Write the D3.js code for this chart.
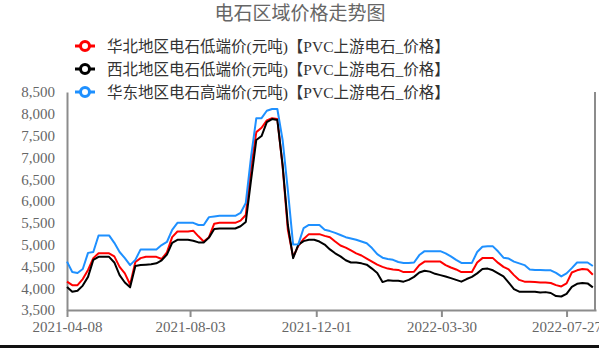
<!DOCTYPE html>
<html>
<head>
<meta charset="utf-8">
<script src="https://cdn.jsdelivr.net/npm/d3@7/dist/d3.min.js"></script>
<style>
  html, body { margin: 0; padding: 0; background: #fff; }
  svg { display: block; }
</style>
</head>
<body>
<svg id="chart" width="599" height="348"></svg>
<script>
// ---------------- data ----------------
const title = "电石区域价格走势图";
const seriesNames = [
  "华北地区电石低端价(元吨)【PVC上游电石_价格】",
  "西北地区电石低端价(元吨)【PVC上游电石_价格】",
  "华东地区电石高端价(元吨)【PVC上游电石_价格】"
];
const seriesColors = ["#ff0000", "#000000", "#1e90ff"];
const startDate = "2021-04-08";
const endDate = "2022-08-24";
const stepDays = 5; // one sample every 5 days
const xTickLabels = ["2021-04-08", "2021-08-03", "2021-12-01", "2022-03-30", "2022-07-27"];
const yTicks = [3500, 4000, 4500, 5000, 5500, 6000, 6500, 7000, 7500, 8000, 8500];

const redValues = [
  4150,4070,4070,4210,4420,4690,4800,4800,4800,4730,
  4490,4340,4085,4600,4690,4720,4720,4720,4670,4820,
  5170,5300,5300,5300,5320,5190,5070,5170,5480,5500,
  5500,5500,5500,5550,5680,6760,7580,7680,7850,7900,
  7880,6800,5340,4720,4970,5130,5240,5240,5240,5200,
  5170,5070,4980,4930,4865,4800,4750,4680,4610,4540,
  4490,4450,4430,4420,4370,4370,4380,4530,4610,4610,
  4610,4610,4530,4475,4430,4370,4370,4370,4590,4690,
  4690,4690,4580,4490,4430,4300,4190,4150,4150,4140,
  4130,4130,4120,4070,4040,4110,4360,4410,4440,4430,
  4310
];
const blackValues = [
  4030,3920,3940,4060,4260,4650,4720,4720,4720,4590,
  4300,4130,4020,4510,4530,4540,4550,4570,4640,4770,
  5040,5110,5110,5110,5090,5050,5050,5160,5360,5370,
  5370,5370,5370,5420,5520,6480,7400,7490,7810,7880,
  7860,6830,5450,4690,5000,5080,5110,5110,5070,5000,
  4890,4800,4730,4640,4590,4590,4570,4540,4450,4350,
  4140,4180,4170,4170,4150,4190,4260,4360,4400,4380,
  4330,4300,4270,4230,4190,4150,4210,4260,4340,4440,
  4450,4410,4340,4270,4130,3980,3920,3920,3920,3920,
  3900,3910,3890,3820,3810,3870,4030,4100,4120,4110,
  4020
];
const blueValues = [
  4610,4370,4350,4440,4810,4830,5210,5210,5210,5040,
  4830,4690,4530,4650,4890,4890,4890,4890,4990,5060,
  5340,5500,5500,5500,5500,5450,5450,5630,5645,5660,
  5660,5660,5660,5725,5955,7010,7900,7900,8070,8110,
  8110,7400,6250,5000,5010,5380,5450,5450,5450,5340,
  5310,5270,5220,5170,5140,5110,5070,5030,4920,4780,
  4700,4670,4650,4600,4580,4580,4590,4760,4850,4850,
  4850,4850,4800,4730,4650,4580,4580,4580,4830,4950,
  4960,4960,4840,4700,4680,4610,4570,4530,4430,4420,
  4420,4410,4410,4350,4270,4340,4460,4590,4590,4590,
  4510
];

// ---------------- chart ----------------
const parse = d3.timeParse("%Y-%m-%d");
const t0 = parse(startDate);
const dates = redValues.map((_, i) => d3.timeDay.offset(t0, i * stepDays));
const allSeries = [redValues, blackValues, blueValues];

const svg = d3.select("#chart");
const W = 599, H = 348;
const plot = { left: 67, right: 596, top: 92, bottom: 310 };

const x = d3.scaleTime()
  .domain([t0, parse(endDate)])
  .range([plot.left, plot.right]);
const y = d3.scaleLinear()
  .domain([3500, 8500])
  .range([plot.bottom, plot.top]);

const labelFont = "'Liberation Serif', 'Noto Sans CJK SC', serif";
const cjkFont = "'Liberation Serif', 'Noto Sans CJK SC', sans-serif";

// title
svg.append("text")
  .attr("x", 300).attr("y", 20)
  .attr("text-anchor", "middle")
  .attr("font-family", cjkFont)
  .attr("font-size", 19)
  .attr("fill", "#666")
  .text(title);

// legend
const legendRows = [46, 69, 92];
seriesNames.forEach((name, i) => {
  const g = svg.append("g").attr("transform", `translate(0,${legendRows[i]})`);
  g.append("line").attr("x1", 75).attr("x2", 95).attr("y1", 0).attr("y2", 0)
    .attr("stroke", seriesColors[i]).attr("stroke-width", 3);
  g.append("circle").attr("cx", 85).attr("cy", 0).attr("r", 4.5)
    .attr("fill", "#fff").attr("stroke", seriesColors[i]).attr("stroke-width", 3);
  g.append("text").attr("x", 107).attr("y", 0).attr("dy", "0.36em")
    .attr("font-family", cjkFont).attr("font-size", 15.5)
    .attr("fill", "#333").text(name);
});

// y axis
const yAxis = d3.axisLeft(y)
  .tickValues(yTicks)
  .tickSize(0)
  .tickSizeOuter(0)
  .tickPadding(12)
  .tickFormat(d3.format(","));
const gy = svg.append("g").attr("transform", `translate(${plot.left},0)`).call(yAxis);
gy.select(".domain").attr("stroke", "#8c8c8c").attr("stroke-width", 2);
gy.selectAll("text").attr("font-family", labelFont).attr("font-size", 15).attr("fill", "#666");

// x axis
const xAxis = d3.axisBottom(x)
  .tickValues(xTickLabels.map(parse))
  .tickSize(7)
  .tickSizeOuter(0)
  .tickPadding(4)
  .tickFormat(d3.timeFormat("%Y-%m-%d"));
const gx = svg.append("g").attr("transform", `translate(0,${plot.bottom})`).call(xAxis);
gx.select(".domain").attr("stroke", "#8c8c8c").attr("stroke-width", 2);
gx.selectAll(".tick line").attr("stroke", "#8c8c8c").attr("stroke-width", 2);
gx.selectAll("text").attr("font-family", labelFont).attr("font-size", 15).attr("fill", "#666");

// right border line
svg.append("line")
  .attr("x1", plot.right - 1).attr("x2", plot.right - 1)
  .attr("y1", plot.top).attr("y2", plot.bottom)
  .attr("stroke", "#8c8c8c").attr("stroke-width", 2);

// series lines
const line = d3.line()
  .x((d, i) => x(dates[i]))
  .y(d => y(d));
allSeries.forEach((vals, i) => {
  svg.append("path")
    .datum(vals)
    .attr("fill", "none")
    .attr("stroke", seriesColors[i])
    .attr("stroke-width", 2)
    .attr("stroke-linejoin", "round")
    .attr("d", line);
});

// bottom frame edge
svg.append("line")
  .attr("x1", 0).attr("x2", W).attr("y1", H - 1.5).attr("y2", H - 1.5)
  .attr("stroke", "#111").attr("stroke-width", 3);
</script>
</body>
</html>
